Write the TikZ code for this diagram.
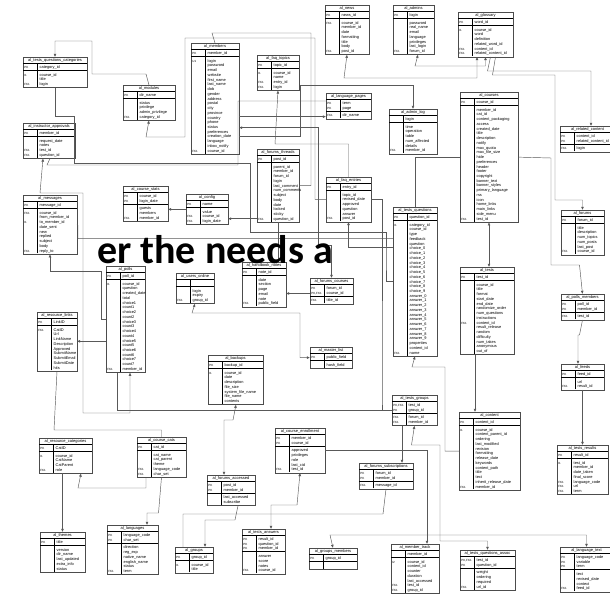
\documentclass[tikz,border=0pt]{standalone}
\usepackage{fontspec}
\usepackage{array}
\usetikzlibrary{arrows.meta}
\newfontfamily\tabfont{Liberation Sans}
\newfontfamily\bigfont{Carlito}
\newcommand\hdf{\fontsize{4}{4.74}\selectfont}
\newcommand\kf{\fontsize{3}{4.74}\selectfont}
\setlength\arrayrulewidth{0.3pt}
\hyphenpenalty=10000
\exhyphenpenalty=10000
\newcommand\ertab[7]{%
  \node[tbl, anchor=north west] (#1) at (#2,#3) {%
    \begin{tabular}{@{\hspace{1.2pt}}>{\kf}p{7pt}|@{\hspace{2pt}}p{\dimexpr #4pt-10.9pt\relax}@{}}
      \multicolumn{2}{@{}c@{}}{\hdf\rule[-1.6pt]{0pt}{5.4pt}#5}\\\hline
      \rule{0pt}{5pt}#6\hline
      \rule{0pt}{6pt}#7
    \end{tabular}};}
\tikzset{
  tbl/.style={draw=black!70, line width=0.4pt, fill=white, inner sep=0pt, inner ysep=0.5pt,
    font=\tabfont\fontsize{3.9}{4.74}\selectfont},
  conn/.style={draw=black!65, line width=0.45pt},
  arr/.style={conn, -{Latex[length=3.2pt,width=2.8pt]}},
  arrs/.style={conn, {Latex[length=3.2pt,width=2.8pt]}-},
  arrb/.style={conn, {Latex[length=3.2pt,width=2.8pt]}-{Latex[length=3.2pt,width=2.8pt]}}
}
\begin{document}
\begin{tikzpicture}[x=1pt,y=-1pt]
\fill[white] (0,0) rectangle (610,599);
\useasboundingbox (0,0) rectangle (610,599);

% ---------- tables ----------
\ertab{tqc}{23}{57}{58}{al\_tests\_questions\_categories}{PK & category\_id\\}{I1 & course\_id\\ & title\\ FK1 & login\\}
\ertab{iap}{23}{123}{46}{al\_instructor\_approvals}{PK & member\_id\\}{ & request\_date\\ & notes\\ FK1 & test\_id\\ FK1 & question\_id\\}
\ertab{mod}{123}{85}{46}{al\_modules}{PK & dir\_name\\}{ & status\\ & privilege\\ & admin\_privilege\\ FK1 & category\_id\\}
\ertab{msg}{23}{195}{48}{al\_messages}{PK & message\_id\\}{FK1 & course\_id\\ & from\_member\_id\\ I1 & to\_member\_id\\ & date\_sent\\ & new\\ & replied\\ & subject\\ & body\\ FK1 & reply\_to\\}
\ertab{cst}{123}{186}{39}{al\_course\_stats}{PK & course\_id\\ PK & login\_date\\}{ & guests\\ & members\\ FK1 & member\_id\\}
\ertab{mem}{191}{43}{42}{al\_members}{PK & member\_id\\}{U1 & login\\ & password\\ & email\\ & website\\ & first\_name\\ & last\_name\\ & dob\\ & gender\\ & address\\ & postal\\ & city\\ & province\\ & country\\ & phone\\ & status\\ & preferences\\ & creation\_date\\ & language\\ & inbox\_notify\\ FK1 & course\_id\\}
\ertab{faqt}{257}{55}{36}{al\_faq\_topics}{PK & topic\_id\\}{I1 & course\_id\\ & name\\ FK1 & entry\_id\\ FK1 & login\\}
\ertab{thr}{257}{149}{36}{al\_forums\_threads}{PK & post\_id\\}{ & parent\_id\\ & member\_id\\ & forum\_id\\ & login\\ & last\_comment\\ & num\_comments\\ & subject\\ & body\\ & date\\ & locked\\ & sticky\\ FK1 & question\_id\\}
\ertab{cfg}{186}{194}{36}{al\_config}{PK & name\\}{ & value\\ FK1 & course\_id\\ FK1 & login\_date\\}
\ertab{news}{325}{5}{38}{al\_news}{PK & news\_id\\}{FK1 & course\_id\\ & member\_id\\ & date\\ & formatting\\ & title\\ & body\\ FK1 & post\_id\\}
\ertab{adm}{393}{5}{35}{al\_admins}{PK & login\\}{ & password\\ & real\_name\\ & email\\ & language\\ & privileges\\ & last\_login\\ FK1 & forum\_id\\}
\ertab{lp}{326}{93}{39}{al\_language\_pages}{PK & term\\ PK & page\\}{FK1 & dir\_name\\}
\ertab{alog}{389}{109}{42}{al\_admin\_log}{ & login\\}{ & time\\ & operation\\ & table\\ & num\_affected\\ & details\\ FK1 & member\_id\\}
\ertab{faqe}{326}{177}{39}{al\_faq\_entries}{PK & entry\_id\\}{ & topic\_id\\ & revised\_date\\ & approved\\ & question\\ & answer\\ FK1 & post\_id\\}
\ertab{glos}{458}{12}{49}{al\_glossary}{PK & word\_id\\}{I1 & course\_id\\ & word\\ & definition\\ & related\_word\_id\\ FK1 & content\_id\\ FK1 & related\_content\_id\\}
\ertab{crs}{460}{92}{52}{al\_courses}{PK & course\_id\\}{ & member\_id\\ & cat\_id\\ & content\_packaging\\ & access\\ & created\_date\\ & title\\ & description\\ & notify\\ & max\_quota\\ & max\_file\_size\\ & hide\\ & preferences\\ & header\\ & footer\\ & copyright\\ & banner\_text\\ & banner\_styles\\ & primary\_language\\ & rss\\ & icon\\ & home\_links\\ & main\_links\\ & side\_menu\\ FK1 & test\_id\\}
\ertab{rc}{560}{126}{49}{al\_related\_content}{PK & content\_id\\ PK & related\_content\_id\\}{FK1 & login\\}
\ertab{frm}{561}{210}{37}{al\_forums}{PK & forum\_id\\}{ & title\\ & description\\ & num\_topics\\ & num\_posts\\ & last\_post\\ FK1 & course\_id\\}
\ertab{tst}{460}{267}{48}{al\_tests}{PK & test\_id\\}{ & course\_id\\ & title\\ & format\\ & start\_date\\ & end\_date\\ & randomize\_order\\ & num\_questions\\ & instructions\\ FK1 & content\_id\\ & result\_release\\ & random\\ & difficulty\\ & num\_takes\\ & anonymous\\ & out\_of\\}
\ertab{pm}{561}{294}{37}{al\_polls\_members}{PK & poll\_id\\ PK & member\_id\\}{FK1 & test\_id\\}
\ertab{feeds}{561}{364}{37}{al\_feeds}{PK & feed\_id\\}{ & url\\ FK1 & result\_id\\}
\ertab{polls}{106}{266}{33}{al\_polls}{PK & poll\_id\\}{I1 & course\_id\\ & question\\ & created\_date\\ & total\\ & choice1\\ & count1\\ & choice2\\ & count2\\ & choice3\\ & count3\\ & choice4\\ & count4\\ & choice5\\ & count5\\ & choice6\\ & count6\\ & choice7\\ & count7\\ FK1 & member\_id\\}
\ertab{rl}{37}{312}{34}{al\_resource\_links}{PK & LinkID\\}{FK1 & CatID\\ & Url\\ & LinkName\\ & Description\\ & Approved\\ & SubmitName\\ & SubmitEmail\\ & SubmitDate\\ & hits\\}
\ertab{uo}{176}{273}{32}{al\_users\_online}{ & \\}{ & login\\ & expiry\\ FK1 & group\_id\\}
\ertab{hn}{242}{262}{38}{al\_handbook\_notes}{PK & note\_id\\}{ & date\\ & section\\ & page\\ & email\\ & note\\ FK1 & public\_field\\}
\ertab{bak}{208}{355}{49}{al\_backups}{PK & backup\_id\\}{I1 & course\_id\\ & date\\ & description\\ & file\_size\\ & system\_file\_name\\ & file\_name\\ & contents\\}
\ertab{fc}{310}{278}{37}{al\_forums\_courses}{PK & forum\_id\\ PK,FK1 & course\_id\\}{FK1 & title\_id\\}
\ertab{tq}{393}{207}{38}{al\_tests\_questions}{PK & question\_id\\}{I1 & category\_id\\ & course\_id\\ & type\\ & feedback\\ & question\\ & choice\_0\\ & choice\_1\\ & choice\_2\\ & choice\_3\\ & choice\_4\\ & choice\_5\\ & choice\_6\\ & choice\_7\\ & choice\_8\\ & choice\_9\\ & answer\_0\\ & answer\_1\\ & answer\_2\\ & answer\_3\\ & answer\_4\\ & answer\_5\\ & answer\_6\\ & answer\_7\\ & answer\_8\\ & answer\_9\\ & properties\\ & content\_id\\ FK1 & name\\}
\ertab{ml}{310}{347}{36}{al\_master\_list}{PK & public\_field\\}{ & hash\_field\\}
\ertab{rcat}{39}{438}{47}{al\_resource\_categories}{PK & CatID\\}{I1 & course\_id\\ & CatName\\ & CatParent\\ FK1 & role\\}
\ertab{thm}{40}{532}{39}{al\_themes}{PK & title\\}{ & version\\ & dir\_name\\ & last\_updated\\ & extra\_info\\ & status\\}
\ertab{lang}{107}{525}{45}{al\_languages}{PK & language\_code\\ PK & char\_set\\}{ & direction\\ & reg\_exp\\ & native\_name\\ & english\_name\\ & status\\ FK1 & term\\}
\ertab{cc}{137}{437}{43}{al\_course\_cats}{PK & cat\_id\\}{ & cat\_name\\ & cat\_parent\\ & theme\\ FK1 & language\_code\\ FK1 & char\_set\\}
\ertab{fa}{207}{475}{42}{al\_forums\_accessed}{PK & post\_id\\ PK & member\_id\\}{ & last\_accessed\\ & subscribe\\}
\ertab{grp}{175}{547}{32}{al\_groups}{PK & group\_id\\}{I1 & course\_id\\ & title\\}
\ertab{ta}{242}{529}{37}{al\_tests\_answers}{PK & result\_id\\ PK & question\_id\\ PK & member\_id\\}{ & answer\\ & score\\ & notes\\ FK1 & course\_id\\}
\ertab{ce}{275}{428}{44}{al\_course\_enrollment}{PK & member\_id\\ PK & course\_id\\}{ & approved\\ & privileges\\ & role\\ & last\_cid\\ FK1 & test\_id\\}
\ertab{tg}{392}{395}{39}{al\_tests\_groups}{PK,FK1 & test\_id\\ PK & group\_id\\}{FK1 & forum\_id\\ FK1 & member\_id\\}
\ertab{fs}{359}{463}{48}{al\_forums\_subscriptions}{PK & forum\_id\\ PK & member\_id\\}{FK1 & message\_id\\}
\ertab{gm}{309}{548}{42}{al\_groups\_members}{PK & group\_id\\}{ & \\}
\ertab{mt}{391}{544}{42}{al\_member\_track}{ & member\_id\\}{I2 & course\_id\\ & content\_id\\ & counter\\ & duration\\ & last\_accessed\\ FK1 & test\_id\\ FK1 & group\_id\\}
\ertab{cont}{459}{412}{55}{al\_content}{PK & content\_id\\}{I1 & course\_id\\ & content\_parent\_id\\ & ordering\\ & last\_modified\\ & revision\\ & formatting\\ & release\_date\\ & keywords\\ & content\_path\\ & title\\ & text\\ & inherit\_release\_date\\ FK1 & member\_id\\}
\ertab{tr}{557}{445}{45}{al\_tests\_results}{PK & result\_id\\}{I1 & test\_id\\ & member\_id\\ & date\_taken\\ & final\_score\\ FK1 & language\_code\\ FK1 & url\\ FK1 & term\\}
\ertab{tqa}{460}{550}{49}{al\_tests\_questions\_assoc}{PK,FK1 & test\_id\\ PK & question\_id\\}{ & weight\\ & ordering\\ & required\\ FK1 & url\_id\\}
\ertab{lt}{560}{547}{47}{al\_language\_text}{PK & language\_code\\ PK & variable\\ PK & term\\}{ & text\\ & revised\_date\\ & context\\ FK1 & feed\_id\\}

% ---------- connectors ----------
\draw[arr] (mod.north) -- (146,74) -| (92,41) -| (tqc.north);
\draw[conn] (tqc.south) |- (74,116) |- (250,163) -- (250,232) -| (386,260) |- (tq.west);
\draw[arrb] ([xshift=-6pt]iap.south) -- (40,193) -| (83,413) -| ([xshift=4.5pt]polls.south);
\draw[arrs] (mod.south) -- (146,137) -| (185,38) -- (315,38) |- (faqe.west);
\draw[conn] (mem.north) -- (212,33) -| (311,150) |- (thr.east);
\draw[arrb] ([yshift=-29pt]mem.east) -| (318,245) -| (fc.north);
\draw[arrb] (news.south) -- (344,78) -| ([xshift=-8.5pt]glos.south);
\draw[arrb] ([xshift=4.5pt]adm.south) -- (415,66) -| (glos.south);
\draw[arr] ([yshift=-38pt]mem.east) -| (300,85) -| (alog.north);
\draw[arr] ([yshift=-18pt]mem.east) -- ([yshift=-18pt]mem.east -| lp.west);
\draw[arrs] (faqt.south) -- (275,144) -| (faqe.north);
\draw[arrs] (faqe.south) |- ([yshift=34pt]tq.west);
\draw[arr] (cfg.west) -- (cfg.west -| cst.east);
\draw[arr] ([yshift=-33pt]thr.west) -- ([yshift=-33pt]thr.west -| cfg.east);
\draw[arrs] (msg.south) |- (101,271) |- (polls.west);
\draw[arr] ([xshift=5pt]glos.south) -- (487.5,71) -| ([xshift=3.5pt]rc.north);
\draw[arr] ([xshift=10pt]glos.south) -- (492.5,75) -| (555,200) -| (frm.north);
\draw[arr] (crs.east) -- (551,158) |- (579.5,265) -- (pm.north);
\draw[arr] (pm.south) -- (579.5,335) -| ([xshift=-4.5pt]feeds.north);
\draw[arr] (feeds.south) -- (tr.north);
\draw[arrb] (crs.south) -- (crs.south |- tst.north);
\draw[arr] ([xshift=-12pt]tst.south) -- ([xshift=-12pt]tst.south |- cont.north);
\draw[arrs] (tq.south) -- (412,367) -| (445,420) |- (cont.west);
\draw[arrb] (tg.south) -- (411.5,445) -| (440,541) -| (tqa.north);
\draw[arr] ([xshift=-12.5pt]tg.south) -- ([xshift=-12.5pt]tg.south |- fs.north);
\draw[arr] (ce.east) -| ([xshift=12pt]mt.north);
\draw[arrb] (gm.north) -- (330,535) -| (lt.north);
\draw[arrb] (ce.south) -- (297,505) -| ([xshift=7.5pt]ta.north);
\draw[arrb] ([xshift=0.5pt]bak.south) -- (233,420) -| ([xshift=-7pt]fa.north);
\draw[arr] ([xshift=7pt]fa.south) -- (235,520) -| ([xshift=11pt]grp.north);
\draw[arr] (cc.south) -- (158.5,513) -| ([xshift=14.5pt]lang.north);
\draw[arr] ([xshift=-3pt]rcat.south) -- ([xshift=-3pt]rcat.south |- thm.north);
\draw[arrs] ([xshift=15.5pt]rcat.south) -- (78,488) -| ([xshift=-15.5pt]cc.south);
\draw[conn] (rl.south) -- (54,430) -| (cc.north);
\draw[arrb] (uo.south) -- (192,313) -| (300,340) |- (ml.west);
\draw[arrs] ([yshift=-9pt]hn.east) -- ([yshift=-9pt]hn.east -| fc.west);
\draw[conn] (thr.south) -- (thr.south |- hn.north);
\draw[conn] ([xshift=1pt]iap.south) -- (47,165) -| (238,103) |- ([yshift=5pt]lp.west);
\draw[conn] ([xshift=-8pt]polls.south) |- (tg.west);
\draw[conn] (fs.south) -- (383,514) -| ([xshift=-11pt]grp.north);
\draw[conn] (faqe.east) -| (382,400) |- (tg.west);
\draw[conn] (msg.east) -- (78,225.3) |- ([yshift=43pt]tq.west);
\draw[conn] (tq.north) |- (crs.west);
\draw[arr] ([yshift=-22pt]polls.west) -- ([yshift=-22pt]polls.west -| rl.east);

% ---------- overlay caption ----------
\node[anchor=base west, inner sep=0pt, font=\bigfont\bfseries\fontsize{40}{40}\selectfont] (cap) at (97,263) {er the needs a};
\end{tikzpicture}
\end{document}
